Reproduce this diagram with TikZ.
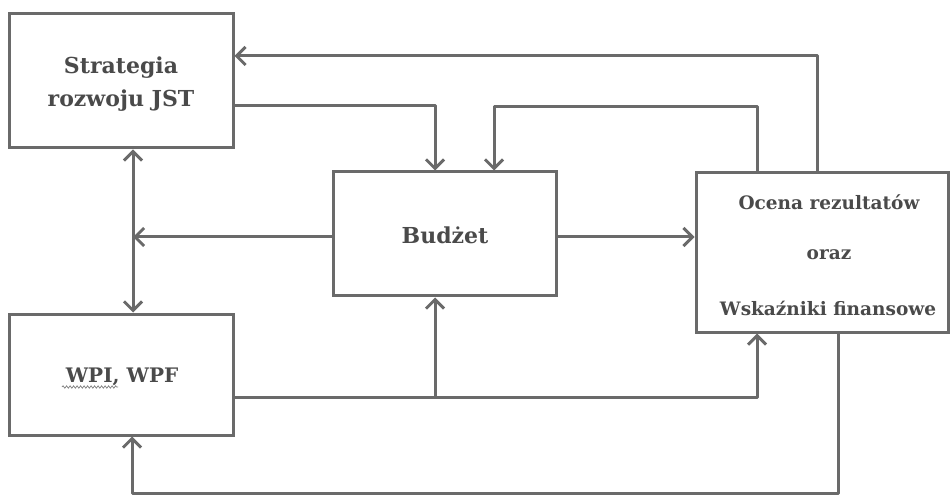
\documentclass[tikz,border=0pt]{standalone}
\usepackage{fontspec}
\setmainfont{DejaVu Serif}
\usetikzlibrary{arrows.meta,decorations.pathmorphing}
\definecolor{linegray}{HTML}{6A6A6A}
\definecolor{txtgray}{HTML}{4A4A4A}
\tikzset{
  box/.style={draw=linegray, line width=3pt, fill=white, inner sep=0pt},
  conn/.style={draw=linegray, line width=3pt, line join=round},
  arr/.style={conn, -{Straight Barb[length=9pt,width=18pt,line width=3pt]}},
  darr/.style={conn, {Straight Barb[length=9pt,width=18pt,line width=3pt]}-{Straight Barb[length=9pt,width=18pt,line width=3pt]}},
  lbl/.style={text=txtgray, align=center, inner sep=0pt},
  bigtxt/.style={lbl, font=\bfseries\fontsize{22}{33}\selectfont},
  midtxt/.style={lbl, font=\bfseries\fontsize{20}{24}\selectfont},
  smalltxt/.style={lbl, font=\bfseries\fontsize{18.5}{22}\selectfont}
}
\begin{document}
\begin{tikzpicture}[x=1pt,y=-1pt]
\useasboundingbox (0,0) rectangle (951,497);
% boxes
\node[box, minimum width=224pt, minimum height=134pt] (strat) at (121,81) {};
\node[box, minimum width=223pt, minimum height=124pt] (bud) at (444.5,234) {};
\node[box, minimum width=252pt, minimum height=159pt] (ocena) at (822,252.5) {};
\node[box, minimum width=224pt, minimum height=121pt] (wpi) at (121,374.5) {};
% labels
\node[bigtxt] (tstrat) at (121,84) {Strategia\\rozwoju JST};
\node[bigtxt] (tbud) at (445,235) {Budżet};
\node[smalltxt] (t1) at (829,202) {Ocena rezultatów};
\node[smalltxt] (t2) at (829,255) {oraz};
\node[smalltxt] (t3) at (828,308) {Wskaźniki finansowe};
\node[midtxt] (twpi) at (122,377) {WPI, WPF};
\coordinate (sq1) at (62,387);
\coordinate (sq2) at (118,387);
\draw[txtgray!70, line width=0.7pt, decorate, decoration={snake, amplitude=1.2pt, segment length=3.5pt}]
  (sq1) -- (sq2);
% coordinates
\coordinate (c1) at (817,56);
\coordinate (c2) at (435,106);
\coordinate (c3) at (757,107);
\coordinate (c4) at (494,107);
\coordinate (jx) at (133,237);
\coordinate (w1) at (757,397);
\coordinate (w2) at (435,397);
\coordinate (b1) at (838,493);
\coordinate (b2) at (132,493);
% connectors
\draw[arr] (c1 |- ocena.north) -- (c1) -- (strat.east |- c1);
\draw[arr] (strat.east |- c2) -- (c2) -- (c2 |- bud.north);
\draw[arr] (c3 |- ocena.north) -- (c3) -- (c4) -- (c4 |- bud.north);
\draw[darr] (strat.south -| jx) -- (wpi.north -| jx);
\draw[arr] (bud.west |- jx) -- (jx);
\draw[arr] (bud.east |- jx) -- (ocena.west |- jx);
\draw[arr] (wpi.east |- w1) -- (w1) -- (w1 |- ocena.south);
\draw[arr] (w2) -- (w2 |- bud.south);
\draw[arr] (b1 |- ocena.south) -- (b1) -- (b2) -- (b2 |- wpi.south);
\end{tikzpicture}
\end{document}
